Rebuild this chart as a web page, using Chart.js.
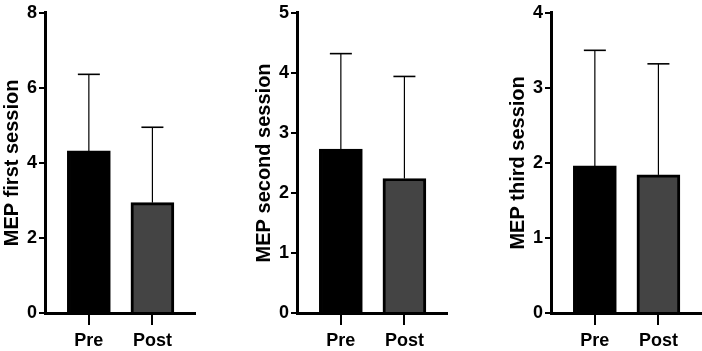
<!DOCTYPE html>
<html>
<head>
<meta charset="utf-8">
<script src="https://cdn.jsdelivr.net/npm/chart.js@4"></script>
<style>
  html, body { margin: 0; padding: 0; background: #fff; }
  body { width: 702px; height: 351px; position: relative; overflow: hidden; }
  .panel { position: absolute; top: 0; width: 196px; height: 351px; }
</style>
</head>
<body>
<div class="panel" style="left:0px"><canvas id="c1"></canvas></div>
<div class="panel" style="left:252px"><canvas id="c2"></canvas></div>
<div class="panel" style="left:506px"><canvas id="c3"></canvas></div>
<script>
// values: bar = mean, whisker = mean + SD
const groups = ['Pre', 'Post'];
const titles = ['MEP first session', 'MEP second session', 'MEP third session'];
const meanFirst = [4.32, 2.94];
const sdFirst = [2.04, 2.01];
const meanSecond = [2.73, 2.24];
const sdSecond = [1.59, 1.70];
const meanThird = [1.96, 1.84];
const sdThird = [1.54, 1.48];
const yMax = [8, 5, 4];
const yStep = [2, 1, 1];

const fontFamily = '"Liberation Sans", Arial, sans-serif';

// upward SD whisker with a cap, on top of each bar
const errorBars = {
  id: 'errorBars',
  afterDatasetsDraw(chart) {
    const ctx = chart.ctx;
    const ds = chart.data.datasets[0];
    const meta = chart.getDatasetMeta(0);
    const y = chart.scales.y;
    ctx.save();
    ctx.strokeStyle = '#000';
    meta.data.forEach((bar, i) => {
      const top = y.getPixelForValue(ds.data[i].y + ds.sd[i]);
      ctx.lineWidth = 1.2;
      ctx.beginPath();
      ctx.moveTo(bar.x, bar.y);
      ctx.lineTo(bar.x, top);
      ctx.stroke();
      ctx.lineWidth = 1.6;
      ctx.beginPath();
      ctx.moveTo(bar.x - 11, top);
      ctx.lineTo(bar.x + 11, top);
      ctx.stroke();
    });
    ctx.restore();
  }
};

function makePanel(id, title, means, sds, max, step) {
  new Chart(document.getElementById(id), {
    type: 'bar',
    data: {
      datasets: [{
        data: means.map((m, i) => ({ x: i, y: m })),
        sd: sds,
        backgroundColor: ['#000000', '#444444'],
        borderColor: '#000',
        borderWidth: 3,
        borderSkipped: 'start',
        barThickness: 43
      }]
    },
    options: {
      responsive: true,
      maintainAspectRatio: false,
      animation: false,
      layout: { padding: { top: 10, right: 1, left: 0, bottom: 0 } },
      plugins: { legend: { display: false }, tooltip: { enabled: false } },
      scales: {
        x: {
          type: 'linear',
          min: -0.69,
          max: 1.67,
          offset: false,
          bounds: 'data',
          afterBuildTicks: (s) => { s.ticks = groups.map((g, i) => ({ value: i })); },
          ticks: {
            callback: (v) => groups[v],
            color: '#000',
            font: { family: fontFamily, size: 18, weight: 'bold' },
            padding: 5,
            maxRotation: 0,
            autoSkip: false
          },
          grid: { offset: false, drawOnChartArea: false, drawTicks: true, tickLength: 12, color: '#000', lineWidth: 2 },
          border: { display: true, color: '#000', width: 3 },
          afterFit: (s) => { s.height = 38; }
        },
        y: {
          min: 0,
          max: max,
          ticks: {
            stepSize: step,
            color: '#000',
            font: { family: fontFamily, size: 18, weight: 'bold' },
            padding: 2
          },
          grid: { drawOnChartArea: false, drawTicks: true, tickLength: 6, color: '#000', lineWidth: 2 },
          border: { display: true, color: '#000', width: 3 },
          title: {
            display: true,
            text: title,
            color: '#000',
            font: { family: fontFamily, size: 20, weight: 'bold' },
            padding: 0
          },
          afterFit: (s) => { s.width = 45; }
        }
      }
    },
    plugins: [errorBars]
  });
}

makePanel('c1', titles[0], meanFirst, sdFirst, yMax[0], yStep[0]);
makePanel('c2', titles[1], meanSecond, sdSecond, yMax[1], yStep[1]);
makePanel('c3', titles[2], meanThird, sdThird, yMax[2], yStep[2]);
</script>
</body>
</html>
